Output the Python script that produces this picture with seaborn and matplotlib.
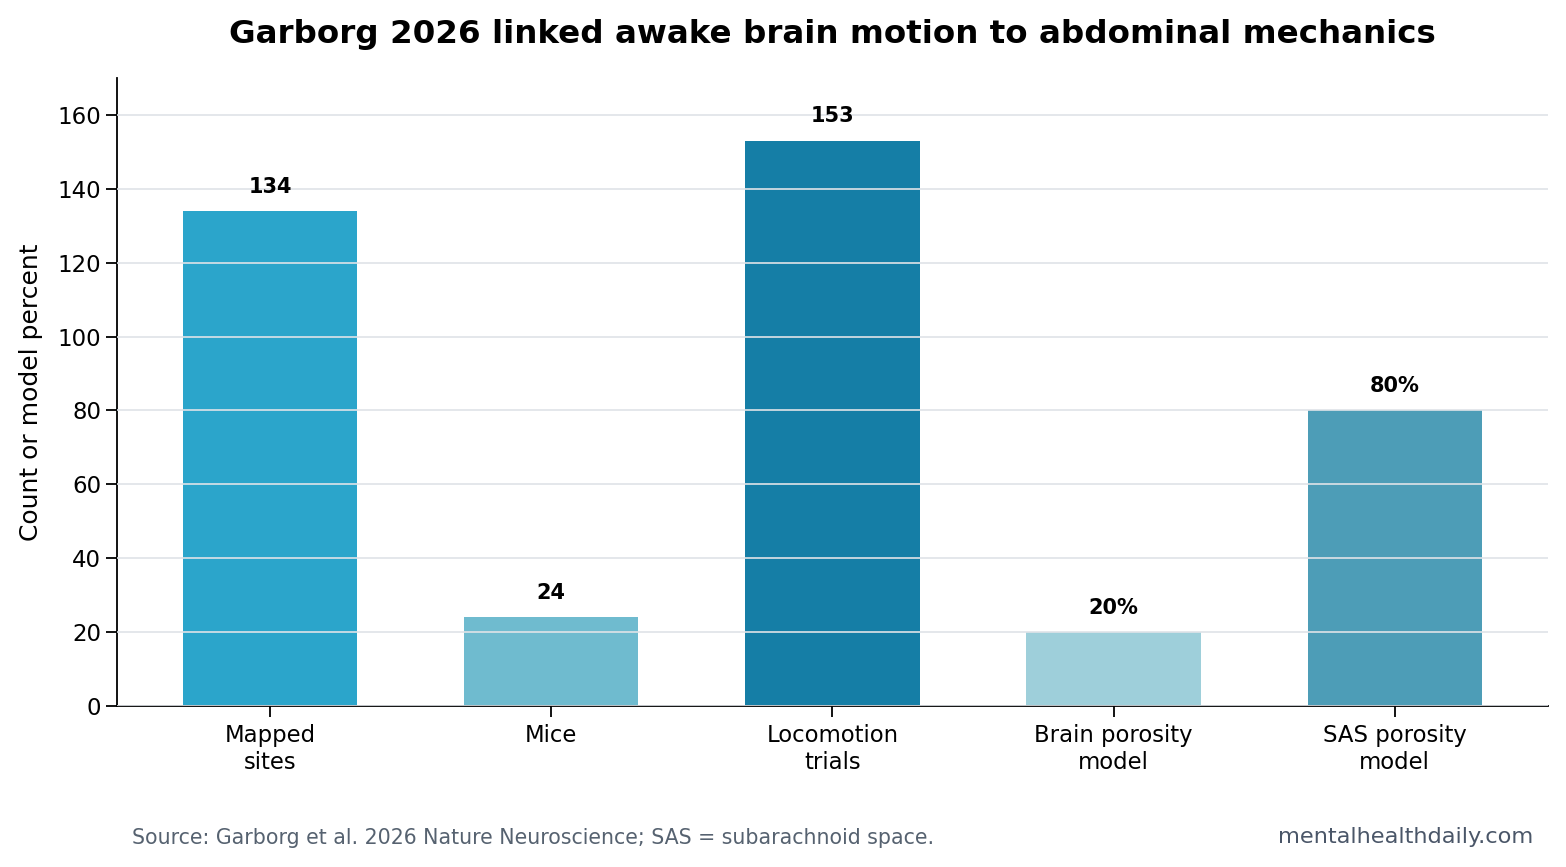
import matplotlib
matplotlib.use("Agg")
import matplotlib.pyplot as plt
import seaborn as sns
import pandas as pd

# Chart data
categories = ["Mapped\nsites", "Mice", "Locomotion\ntrials", "Brain porosity\nmodel", "SAS porosity\nmodel"]
values = [134, 24, 153, 20, 80]
value_labels = ["134", "24", "153", "20%", "80%"]
bar_colors = ["#2ba5cb", "#6fbbcf", "#157ea6", "#9ecfda", "#4d9db7"]

sns.set_theme(style="white")
plt.rcParams["font.family"] = ["DejaVu Sans"]
plt.rcParams["text.color"] = "black"
plt.rcParams["axes.labelcolor"] = "black"
plt.rcParams["xtick.color"] = "black"
plt.rcParams["ytick.color"] = "black"

df = pd.DataFrame({"category": categories, "value": values})

fig = plt.figure(figsize=(15.66, 8.67), dpi=100)
ax = fig.add_axes([0.0747, 0.1857, 0.9138, 0.7243])

sns.barplot(data=df, x="category", y="value", hue="category", palette=bar_colors,
            width=0.62, legend=False, ax=ax, saturation=1, linewidth=0)

# grid drawn over the bars
ax.set_axisbelow(False)
ax.yaxis.grid(True, color="#dfe3e8", linewidth=1.2)
ax.xaxis.grid(False)

for i, (v, lab) in enumerate(zip(values, value_labels)):
    ax.text(i, v + 3.9, lab, ha="center", va="bottom", fontsize=15, fontweight="bold", color="black")

ax.set_ylim(0, 170)
ax.set_xlim(-0.545, 4.545)
ax.set_yticks(range(0, 161, 20))
ax.set_xlabel("")
ax.set_ylabel("Count or model percent", fontsize=18, labelpad=10)
ax.tick_params(axis="y", labelsize=16.5, length=8, width=1.3, left=True)
ax.tick_params(axis="x", labelsize=16.4, length=8, width=1.3, bottom=True, pad=5)

for side in ["top", "right"]:
    ax.spines[side].set_visible(False)
for side in ["left", "bottom"]:
    ax.spines[side].set_color("black")
    ax.spines[side].set_linewidth(1.3)

ax.set_title("Garborg 2026 linked awake brain motion to abdominal mechanics",
             fontsize=23.4, fontweight="bold", color="black", pad=25)

fig.text(0.084, 0.033, "Source: Garborg et al. 2026 Nature Neuroscience; SAS = subarachnoid space.",
         fontsize=14.8, color="#566270", ha="left", va="center")
fig.text(0.979, 0.035, "mentalhealthdaily.com", fontsize=16.2, color="#4a5668", ha="right", va="center")

fig.savefig("out.png", dpi=100)
